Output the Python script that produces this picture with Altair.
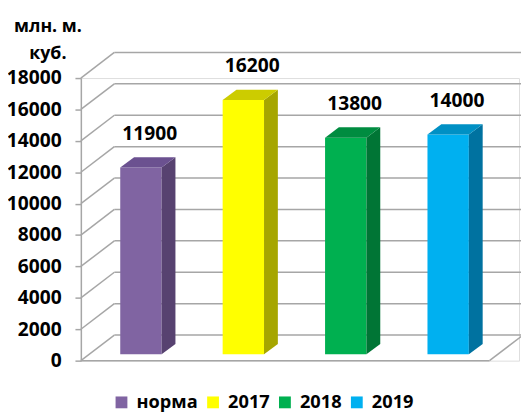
import altair as alt
import pandas as pd

# ---- data ----
categories = ["норма", "2017", "2018", "2019"]
values = [11900, 16200, 13800, 14000]
front_colors = ["#8064a2", "#ffff00", "#00b050", "#00b0f0"]
side_colors = ["#574270", "#a6a600", "#007535", "#0072a0"]
top_colors = ["#6b5190", "#cccc00", "#008c40", "#0090c4"]
tick_values = [0, 2000, 4000, 6000, 8000, 10000, 12000, 14000, 16000, 18000]
y_title = ["млн. м.", "куб."]

# ---- geometry constants (style) ----
H = 0.202      # half bar width in category units
DX = 0.135     # depth in category units
DY = 660       # depth in value units
BASE = 400     # bars sit slightly above the floor edge
W, HGT = 445, 287
FONT = "Open Sans"
GRID = "#a6a6a6"

front = pd.DataFrame({
    "cat": categories,
    "x": [i - H for i in range(len(categories))],
    "x2": [i + H for i in range(len(categories))],
    "c": list(range(len(categories))),
    "y0": [BASE] * len(values),
    "top": [v + BASE for v in values],
    "label": [str(v) for v in values],
})

rows = []
for i, v in enumerate(values):
    t = v + BASE
    f = f"side{i}"
    rows += [
        dict(face=f, x=i + H, y=BASE, y2=t, col=side_colors[i]),
        dict(face=f, x=i + H + DX, y=BASE + DY, y2=t + DY, col=side_colors[i]),
    ]
    f = f"top{i}"
    rows += [
        dict(face=f, x=i - H, y=t, y2=t, col=top_colors[i]),
        dict(face=f, x=i - H + DX, y=t, y2=t + DY, col=top_colors[i]),
        dict(face=f, x=i + H, y=t, y2=t + DY, col=top_colors[i]),
        dict(face=f, x=i + H + DX, y=t + DY, y2=t + DY, col=top_colors[i]),
    ]
faces = pd.DataFrame(rows)
grid = pd.DataFrame({"v": tick_values})
zero = pd.DataFrame({"v": [0]})

xs = alt.Scale(domain=[-0.5865, 3.692], nice=False, zero=False)
ys = alt.Scale(domain=[0, 18000], nice=False)

AX = alt.Axis(
    values=tick_values, grid=False, title=y_title, format="d",
    titleAngle=0, titleX=-34, titleY=-52, titleAlign="center",
    titleBaseline="middle", titleLineHeight=27,
    titleFont=FONT, titleFontSize=18, titleFontWeight="bold", titleColor="#000",
    labelFont=FONT, labelFontSize=19.5, labelFontWeight="bold", labelColor="#000",
    labelPadding=14, tickSize=6, tickColor=GRID, tickWidth=1.5,
    domainColor=GRID, domainWidth=1.5)


def Y(field):
    return alt.Y(field, scale=ys, axis=AX)


back = alt.Chart(grid).mark_rule(yOffset=-26, color=GRID, strokeWidth=1.5).encode(
    y=Y("v:Q"), x=alt.value(34), x2=alt.value(447))
slant = alt.Chart(grid).mark_rule(y2Offset=-26, color=GRID, strokeWidth=1.5).encode(
    y=Y("v:Q"), y2="v", x=alt.value(0), x2=alt.value(34))
floor_front = alt.Chart(zero).mark_rule(color=GRID, strokeWidth=1.5).encode(
    y=Y("v:Q"), x=alt.value(0), x2=alt.value(415))
floor_right = alt.Chart(zero).mark_rule(y2Offset=-26, color=GRID, strokeWidth=1.5).encode(
    y=Y("v:Q"), y2="v", x=alt.value(415), x2=alt.value(449))

bars = alt.Chart(front).mark_rect().encode(
    x=alt.X("x:Q", scale=xs, axis=None),
    x2="x2",
    y=Y("y0:Q"),
    y2="top",
    color=alt.Color("cat:N", sort=categories,
                    scale=alt.Scale(domain=categories, range=front_colors),
                    legend=alt.Legend(
                        title=None, orient="none", direction="horizontal",
                        legendX=32, legendY=320, symbolType="square",
                        symbolSize=144, symbolStrokeWidth=0, labelFont=FONT,
                        labelFontSize=18.5, labelFontWeight="bold", labelColor="#000",
                        labelOffset=6, columnPadding=6, padding=0)),
)

depth = alt.Chart(faces).mark_area().encode(
    x=alt.X("x:Q", scale=xs, axis=None),
    y=Y("y:Q"),
    y2="y2",
    detail="face:N",
    color=alt.Color("col:N", scale=None),
)

labels = alt.Chart(front).mark_text(
    dx=9, dy=-34, font=FONT, fontSize=19.5, fontWeight="bold", color="#000",
    baseline="middle", align="center").encode(
    x=alt.X("c:Q", scale=xs, axis=None),
    y=Y("top:Q"),
    text="label:N",
)

chart = alt.layer(back, slant, floor_front, floor_right, bars, depth, labels).properties(
    width=W, height=HGT,
    autosize=alt.AutoSizeParams(type="none"),
    padding={"left": 74, "top": 68, "right": 2, "bottom": 49},
).configure_view(stroke=None).configure(background="white")

chart.save("out.html", embed_options={"renderer": "svg", "actions": False})
